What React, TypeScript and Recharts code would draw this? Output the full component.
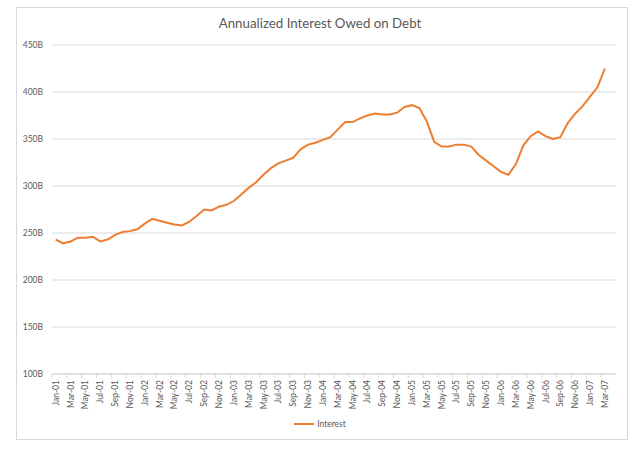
import React from "react"
import {
  CartesianGrid,
  Legend,
  Line,
  LineChart,
  XAxis,
  YAxis,
} from "recharts"

// Monthly categories Jan-01 .. Apr-07 (Apr-07 has no value, Excel leaves an empty slot)
const MONTHS = ["Jan", "Feb", "Mar", "Apr", "May", "Jun", "Jul", "Aug", "Sep", "Oct", "Nov", "Dec"]
const YEARS = ["01", "02", "03", "04", "05", "06", "07"]
const LAST_YEAR_MONTHS = 4

// annualized interest, billions
const interest = [
  243, 239, 241, 245, 245, 246, 241, 243, 248, 251, 252, 254,
  260, 265, 263, 261, 259, 258, 262, 268, 275, 274, 278, 280,
  284, 291, 298, 304, 312, 319, 324, 327, 330, 339, 344, 346,
  349, 352, 360, 368, 368, 372, 375, 377, 376, 376, 378, 384,
  386, 383, 369, 347, 342, 342, 344, 344, 342, 333, 327, 321,
  315, 312, 323, 343, 353, 358, 353, 350, 352, 367, 377, 385,
  395, 405, 425,
]

const yTicks = [100, 150, 200, 250, 300, 350, 400, 450]

const categories: string[] = []
YEARS.forEach((yr, yi) => {
  const count = yi === YEARS.length - 1 ? LAST_YEAR_MONTHS : 12
  for (let m = 0; m < count; m++) categories.push(`${MONTHS[m]}-${yr}`)
})

const data = categories.map((month, i) => ({
  month,
  interest: i < interest.length ? interest[i] : null,
}))

const FONT = "Lato, 'Liberation Sans', sans-serif"
const TEXT = "#595959"
const GRID = "#d9d9d9"
const ORANGE = "#ED7D31"

const PLOT_LEFT = 52
const PLOT_RIGHT = 616
const PLOT_TOP = 45
const PLOT_BOTTOM = 374
const HALF = (PLOT_RIGHT - PLOT_LEFT) / categories.length / 2

function MonthTick(props: any) {
  const { x, payload, index } = props
  const lastLabelled = index === interest.length - 1
  return (
    <g>
      <line x1={x - HALF} x2={x - HALF} y1={PLOT_BOTTOM} y2={PLOT_BOTTOM + 4} stroke={GRID} />
      {lastLabelled && (
        <line x1={x + 3 * HALF} x2={x + 3 * HALF} y1={PLOT_BOTTOM} y2={PLOT_BOTTOM + 4} stroke={GRID} />
      )}
      <text
        transform={`translate(${x},${PLOT_BOTTOM + 6}) rotate(-90)`}
        textAnchor="end"
        dominantBaseline="central"
        fontSize={8.5}
        fontFamily={FONT}
        fill={TEXT}
      >
        {payload.value}
      </text>
    </g>
  )
}

function LegendContent() {
  return (
    <div
      style={{
        display: "flex",
        justifyContent: "center",
        alignItems: "center",
        height: 16,
        fontFamily: FONT,
        fontSize: 8.5,
        color: TEXT,
      }}
    >
      <svg width={21} height={6} style={{ marginRight: 2 }}>
        <line x1={0} x2={20} y1={3} y2={3} stroke={ORANGE} strokeWidth={2} />
      </svg>
      <span>Interest</span>
    </div>
  )
}

export default function App() {
  return (
    <div
      style={{
        position: "absolute",
        left: 0,
        top: 0,
        width: 640,
        height: 449,
        background: "#fff",
        overflow: "hidden",
      }}
    >
      <div
        style={{
          position: "absolute",
          left: 16,
          top: 7,
          width: 610,
          height: 431,
          border: `1px solid ${GRID}`,
        }}
      />
      <div
        style={{
          position: "absolute",
          left: 0,
          top: 15,
          width: 640,
          textAlign: "center",
          fontFamily: FONT,
          fontSize: 13.3,
          color: TEXT,
        }}
      >
        Annualized Interest Owed on Debt
      </div>
      <div style={{ position: "absolute", left: 0, top: 0 }}>
        <LineChart
          width={640}
          height={449}
          data={data}
          margin={{ top: PLOT_TOP, right: 640 - PLOT_RIGHT, bottom: 0, left: 0 }}
        >
          <CartesianGrid stroke={GRID} vertical={false} />
          <XAxis
            dataKey="month"
            interval={1}
            height={449 - PLOT_BOTTOM - 16}
            padding={{ left: HALF, right: HALF }}
            axisLine={{ stroke: GRID }}
            tickLine={false}
            tick={<MonthTick />}
          />
          <YAxis
            width={PLOT_LEFT}
            domain={[100, 450]}
            ticks={yTicks}
            tickFormatter={(v: number) => `${v}B`}
            axisLine={false}
            tickLine={false}
            tickMargin={3}
            tick={{ fill: TEXT, fontSize: 8.5, fontFamily: FONT }}
          />
          <Legend
            content={<LegendContent />}
            wrapperStyle={{ position: "absolute", left: 0, top: 416, width: 640, height: 16 }}
          />
          <Line
            type="linear"
            dataKey="interest"
            stroke={ORANGE}
            strokeWidth={2}
            dot={false}
            isAnimationActive={false}
          />
        </LineChart>
      </div>
    </div>
  )
}
